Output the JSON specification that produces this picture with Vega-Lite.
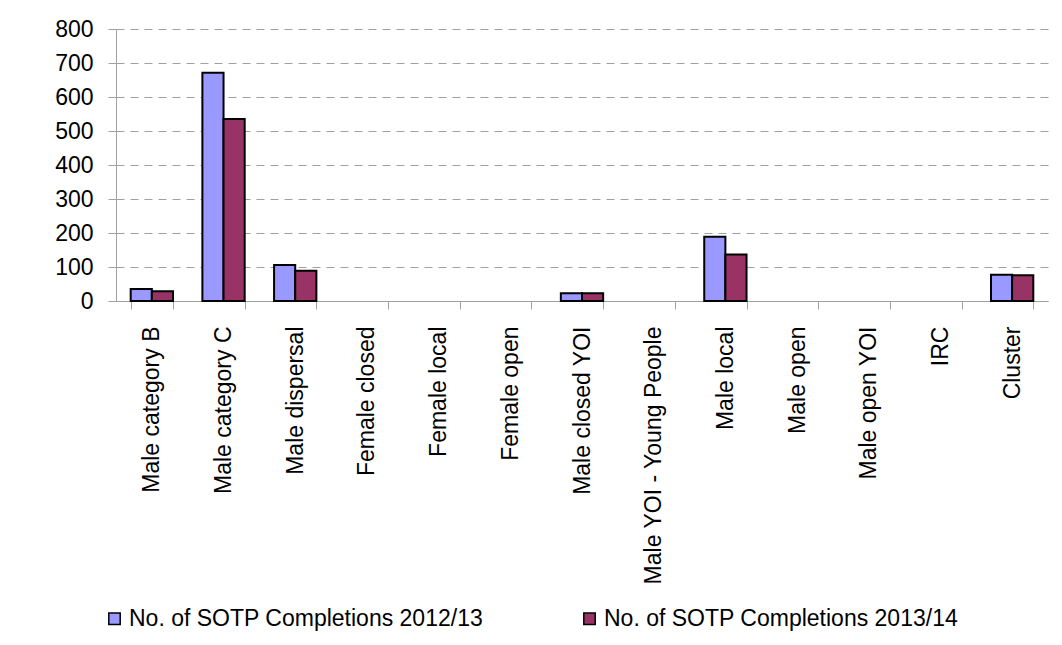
{
  "$schema": "https://vega.github.io/schema/vega-lite/v6.json",
  "autosize": {"type": "none"},
  "padding": {"left": 116, "top": 29, "right": 14, "bottom": 344},
  "width": 932,
  "height": 272,
  "background": "white",
  "config": {"view": {"stroke": null}, "font": "Liberation Sans"},
  "data": {
    "values": [
      {"category": "Male category B", "series": "No. of SOTP Completions 2012/13", "value": 35},
      {"category": "Male category B", "series": "No. of SOTP Completions 2013/14", "value": 29},
      {"category": "Male category C", "series": "No. of SOTP Completions 2012/13", "value": 671},
      {"category": "Male category C", "series": "No. of SOTP Completions 2013/14", "value": 535},
      {"category": "Male dispersal", "series": "No. of SOTP Completions 2012/13", "value": 106},
      {"category": "Male dispersal", "series": "No. of SOTP Completions 2013/14", "value": 89},
      {"category": "Female closed", "series": "No. of SOTP Completions 2012/13", "value": 0},
      {"category": "Female closed", "series": "No. of SOTP Completions 2013/14", "value": 0},
      {"category": "Female local", "series": "No. of SOTP Completions 2012/13", "value": 0},
      {"category": "Female local", "series": "No. of SOTP Completions 2013/14", "value": 0},
      {"category": "Female open", "series": "No. of SOTP Completions 2012/13", "value": 0},
      {"category": "Female open", "series": "No. of SOTP Completions 2013/14", "value": 0},
      {"category": "Male closed YOI", "series": "No. of SOTP Completions 2012/13", "value": 23},
      {"category": "Male closed YOI", "series": "No. of SOTP Completions 2013/14", "value": 23},
      {"category": "Male YOI - Young People", "series": "No. of SOTP Completions 2012/13", "value": 0},
      {"category": "Male YOI - Young People", "series": "No. of SOTP Completions 2013/14", "value": 0},
      {"category": "Male local", "series": "No. of SOTP Completions 2012/13", "value": 189},
      {"category": "Male local", "series": "No. of SOTP Completions 2013/14", "value": 137},
      {"category": "Male open", "series": "No. of SOTP Completions 2012/13", "value": 0},
      {"category": "Male open", "series": "No. of SOTP Completions 2013/14", "value": 0},
      {"category": "Male open YOI", "series": "No. of SOTP Completions 2012/13", "value": 0},
      {"category": "Male open YOI", "series": "No. of SOTP Completions 2013/14", "value": 0},
      {"category": "IRC", "series": "No. of SOTP Completions 2012/13", "value": 0},
      {"category": "IRC", "series": "No. of SOTP Completions 2013/14", "value": 0},
      {"category": "Cluster", "series": "No. of SOTP Completions 2012/13", "value": 77},
      {"category": "Cluster", "series": "No. of SOTP Completions 2013/14", "value": 76}
    ]
  },
  "transform": [{"filter": "datum.value > 0"}],
  "mark": {"type": "bar", "stroke": "black", "strokeWidth": 2},
  "encoding": {
    "x": {
      "field": "category",
      "type": "nominal",
      "scale": {
        "domain": ["Male category B", "Male category C", "Male dispersal", "Female closed", "Female local", "Female open", "Male closed YOI", "Male YOI - Young People", "Male local", "Male open", "Male open YOI", "IRC", "Cluster"],
        "paddingInner": 0.41,
        "paddingOuter": 0.205
      },
      "axis": {
        "title": null,
        "labelAngle": -90,
        "labelAlign": "right",
        "labelBaseline": "middle",
        "labelFontSize": 23,
        "labelColor": "black",
        "labelFont": "Liberation Sans",
        "domainColor": "#a0a0a0",
        "tickColor": "#a0a0a0",
        "tickSize": 8,
        "tickBand": "extent",
        "labelPadding": 17,
        "labelLimit": 400
      }
    },
    "xOffset": {
      "field": "series",
      "type": "nominal",
      "scale": {"paddingInner": 0, "paddingOuter": 0}
    },
    "y": {
      "field": "value",
      "type": "quantitative",
      "scale": {"domain": [0, 800]},
      "axis": {
        "title": null,
        "values": [0, 100, 200, 300, 400, 500, 600, 700, 800],
        "labelFontSize": 23,
        "labelColor": "black",
        "labelFont": "Liberation Sans",
        "gridDash": [8, 6],
        "gridColor": "#a0a0a0",
        "domainColor": "#a0a0a0",
        "tickColor": "#a0a0a0",
        "tickSize": 8,
        "labelPadding": 15
      }
    },
    "color": {
      "field": "series",
      "type": "nominal",
      "scale": {"range": ["#9999FF", "#993366"]},
      "legend": {
        "title": null,
        "orient": "none",
        "legendX": -13,
        "legendY": 578,
        "direction": "horizontal",
        "labelFontSize": 23,
        "labelColor": "black",
        "labelFont": "Liberation Sans",
        "labelLimit": 1000,
        "labelOffset": 3,
        "symbolType": "square",
        "symbolSize": 130,
        "symbolStrokeColor": "black",
        "symbolStrokeWidth": 1.5,
        "symbolOpacity": 1,
        "columnPadding": 94
      }
    }
  }
}
